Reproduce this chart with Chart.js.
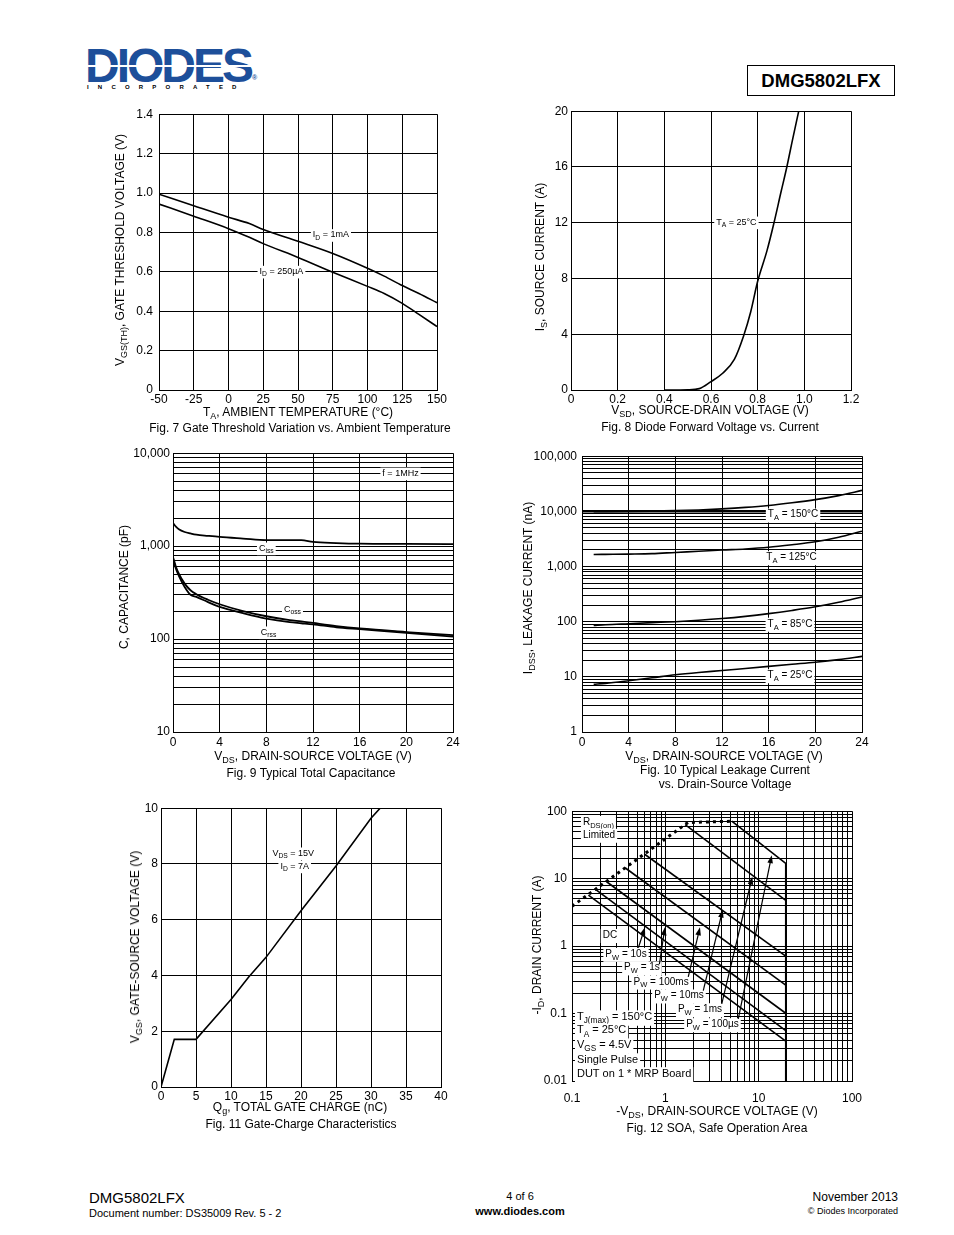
<!DOCTYPE html>
<html>
<head>
<meta charset="utf-8">
<script src="https://cdn.jsdelivr.net/npm/chart.js@4.4.1/dist/chart.umd.min.js"></script>
<style>
body { margin: 0; width: 954px; height: 1235px; position: relative; background: #fff; overflow: hidden;
       font-family: "Liberation Sans", Arial, sans-serif; color: #000; }
canvas { position: absolute; }
.abs { position: absolute; white-space: nowrap; }
.t { position: absolute; white-space: nowrap; font-size: 12px; transform: translate(-50%, -50%); }
.yt { position: absolute; white-space: nowrap; font-size: 12px; transform: translate(-50%, -50%) rotate(-90deg); }
sub { font-size: 9px; vertical-align: -3px; line-height: 0; }
</style>
</head>
<body>

<!-- header -->
<div class="abs" style="left:85px;top:42px;font:bold 48px/48px 'Liberation Sans';color:#1d4f9a;letter-spacing:-3px;">DIODES</div>
<div class="abs" style="left:86px;top:65px;width:166px;height:2px;background:#fff;"></div>
<div class="abs" style="left:252px;top:74px;font:bold 7px 'Liberation Sans';color:#1d4f9a;">&reg;</div>
<div class="abs" style="left:87px;top:84px;font:bold 6px 'Liberation Sans';letter-spacing:9.2px;">INCORPORATED</div>
<div class="abs" style="left:747px;top:65px;width:146px;height:29px;border:1.5px solid #000;text-align:center;font:bold 18.5px/29px 'Liberation Sans';">DMG5802LFX</div>

<canvas id="fig7"></canvas>
<canvas id="fig8"></canvas>
<canvas id="fig9"></canvas>
<canvas id="fig10"></canvas>
<canvas id="fig11"></canvas>
<canvas id="fig12"></canvas>

<!-- axis titles and captions -->
<div class="t" style="left:298px;top:412px;">T<sub>A</sub>, AMBIENT TEMPERATURE (°C)</div>
<div class="t" style="left:300px;top:428px;">Fig. 7 Gate Threshold Variation vs. Ambient Temperature</div>
<div class="yt" style="left:120px;top:250px;">V<sub>GS(TH)</sub>, GATE THRESHOLD VOLTAGE (V)</div>

<div class="t" style="left:710px;top:410px;">V<sub>SD</sub>, SOURCE-DRAIN VOLTAGE (V)</div>
<div class="t" style="left:710px;top:427px;">Fig. 8 Diode Forward Voltage vs. Current</div>
<div class="yt" style="left:540px;top:257px;">I<sub>S</sub>, SOURCE CURRENT (A)</div>

<div class="t" style="left:313px;top:756px;">V<sub>DS</sub>, DRAIN-SOURCE VOLTAGE (V)</div>
<div class="t" style="left:311px;top:773px;">Fig. 9 Typical Total Capacitance</div>
<div class="yt" style="left:124px;top:587px;">C, CAPACITANCE (pF)</div>

<div class="t" style="left:724px;top:756px;">V<sub>DS</sub>, DRAIN-SOURCE VOLTAGE (V)</div>
<div class="t" style="left:725px;top:770px;">Fig. 10 Typical Leakage Current</div>
<div class="t" style="left:725px;top:784px;">vs. Drain-Source Voltage</div>
<div class="yt" style="left:528px;top:588px;">I<sub>DSS</sub>, LEAKAGE CURRENT (nA)</div>

<div class="t" style="left:300px;top:1107px;">Q<sub>g</sub>, TOTAL GATE CHARGE (nC)</div>
<div class="t" style="left:301px;top:1124px;">Fig. 11 Gate-Charge Characteristics</div>
<div class="yt" style="left:135px;top:947px;">V<sub>GS</sub>, GATE-SOURCE VOLTAGE (V)</div>

<div class="t" style="left:717px;top:1111px;">-V<sub>DS</sub>, DRAIN-SOURCE VOLTAGE (V)</div>
<div class="t" style="left:717px;top:1128px;">Fig. 12 SOA, Safe Operation Area</div>
<div class="yt" style="left:537px;top:945px;">-I<sub>D</sub>, DRAIN CURRENT (A)</div>

<!-- footer -->
<div class="abs" style="left:89px;top:1189px;font-size:15px;">DMG5802LFX</div>
<div class="abs" style="left:89px;top:1207px;font-size:11px;">Document number: DS35009 Rev. 5 - 2</div>
<div class="t" style="left:520px;top:1196px;font-size:11px;">4 of 6</div>
<div class="t" style="left:520px;top:1211px;font-size:11px;font-weight:bold;">www.diodes.com</div>
<div class="abs" style="right:56px;top:1190px;font-size:12px;">November 2013</div>
<div class="abs" style="right:56px;top:1206px;font-size:9px;">© Diodes Incorporated</div>

<script>
// Fig. 7 gate threshold
const tempC = [-50, -25, 0, 15, 25, 50, 75, 100, 112, 125, 137, 150];
const vth1mA = [0.994, 0.935, 0.877, 0.845, 0.815, 0.755, 0.693, 0.618, 0.578, 0.53, 0.49, 0.443];
const vth250uA = [0.944, 0.882, 0.819, 0.775, 0.743, 0.673, 0.598, 0.526, 0.49, 0.44, 0.384, 0.322];

// Fig. 8 diode forward
const vsd = [0.4, 0.5, 0.55, 0.6, 0.65, 0.7, 0.74, 0.77, 0.8, 0.84, 0.87, 0.9, 0.925, 0.95, 0.976];
const isrc = [0, 0.02, 0.1, 0.6, 1.2, 2.2, 3.9, 5.6, 7.8, 10, 12, 14.2, 16, 18, 20];

// Fig. 9 capacitance
const vdsCap = [0, 0.25, 0.5, 1, 1.5, 2, 3, 4, 6, 8, 10, 11, 12, 14, 16, 20, 24];
const ciss = [1770, 1620, 1520, 1420, 1370, 1330, 1290, 1255, 1205, 1160, 1160, 1160, 1110, 1080, 1062, 1055, 1050];
const coss = [764, 600, 506, 395, 335, 304, 265, 237, 200, 176, 160, 155, 149, 138, 130, 119, 110];
const crss = [733, 570, 480, 364, 300, 284, 250, 222, 190, 166, 152, 148, 144, 134, 128, 117, 106];

// Fig. 10 leakage
const vdsLeak = [1, 2, 4, 6, 8, 10, 12, 14, 16, 18, 20, 22, 24];
const leak150 = [9900, 9900, 9950, 10100, 10300, 10600, 11100, 11800, 12800, 14300, 16300, 19300, 24000];
const leak125 = [1650, 1660, 1680, 1710, 1800, 1890, 1990, 2080, 2230, 2480, 2810, 3400, 4370];
const leak85 = [85, 88, 92, 96, 100, 106, 114, 125, 140, 160, 186, 225, 281];
const leak25 = [7.3, 7.6, 8.5, 9.6, 10.9, 12, 13, 14.2, 15.5, 16.9, 18.4, 20.5, 23.5];

// Fig. 11 gate charge
const qg = [0, 1.9, 5, 10, 12.5, 15, 20, 25, 30, 31.3];
const vgs = [0, 1.71, 1.71, 3.14, 3.94, 4.65, 6.32, 7.93, 9.64, 10];

// Fig. 12 SOA
const rdsV = [0.1, 1.75, 5.3];
const rdsI = [3.9, 68, 71];
const soaV = {
  us100: [5.15, 19.5, 19.5], ms1: [1.63, 19.5], ms10: [0.6, 19.5],
  ms100: [0.37, 19.5], s1: [0.235, 19.5], s10: [0.177, 19.5], dc: [0.15, 19.5]
};
const soaI = {
  us100: [71, 16.8, 0.01], ms1: [63, 4.75], ms10: [23, 0.71],
  ms100: [14.5, 0.264], s1: [9.0, 0.101], s10: [7.0, 0.056], dc: [5.7, 0.039]
};
const arrowFrom = [[0.514, 0.944], [0.863, 0.538], [1.76, 0.35], [2.55, 0.218], [4.02, 0.139], [6.05, 0.0836]];
const arrowTo = [[0.605, 1.9], [0.99, 1.9], [2.35, 1.9], [4.12, 3.47], [8.55, 10.7], [13.8, 22.3]];

Chart.defaults.font.family = "'Liberation Sans', Arial, sans-serif";
Chart.defaults.font.size = 12;
Chart.defaults.color = '#000';
Chart.defaults.animation = false;

const Y_W = 56, X_H = 24, PAD_T = 10, PAD_R = 22;

// in-plot labels (data coords), drawn on white boxes
const NOTES = {
  fig7: [
    { x: 73.7, y: 0.788, text: 'I_{D} = 1mA', size: 9 },
    { x: 38.1, y: 0.602, text: 'I_{D} = 250µA', size: 9 }
  ],
  fig8: [{ x: 0.709, y: 12.04, text: 'T_{A} = 25°C', size: 9 }],
  fig9: [
    { x: 19.5, y: 6095, text: 'f = 1MHz', size: 9 },
    { x: 8.0, y: 951, text: 'C_{iss}', size: 9 },
    { x: 10.24, y: 210, text: 'C_{oss}', size: 9 },
    { x: 8.19, y: 119, text: 'C_{rss}', size: 9 }
  ],
  fig10: [
    { x: 18.09, y: 8690, text: 'T_{A} = 150°C', size: 10 },
    { x: 17.96, y: 1462, text: 'T_{A} = 125°C', size: 10 },
    { x: 17.83, y: 91, text: 'T_{A} = 85°C', size: 10 },
    { x: 17.83, y: 10.6, text: 'T_{A} = 25°C', size: 10 }
  ],
  fig11: [
    { x: 18.9, y: 8.39, text: 'V_{DS} = 15V', size: 9 },
    { x: 19.1, y: 7.92, text: 'I_{D} = 7A', size: 9 }
  ],
  fig12: [
    { x: 0.131, y: 68.9, text: 'R_{DS(on)}', size: 10, align: 'left' },
    { x: 0.131, y: 44.4, text: 'Limited', size: 10, align: 'left' },
    { x: 0.255, y: 1.45, text: 'DC', size: 10 },
    { x: 0.379, y: 0.762, text: 'P_{W} = 10s', size: 10 },
    { x: 0.562, y: 0.48, text: 'P_{W} = 1s', size: 10 },
    { x: 0.9, y: 0.296, text: 'P_{W} = 100ms', size: 10 },
    { x: 1.40, y: 0.184, text: 'P_{W} = 10ms', size: 10 },
    { x: 2.35, y: 0.115, text: 'P_{W} = 1ms', size: 10 },
    { x: 3.2, y: 0.069, text: 'P_{W} = 100µs', size: 10 },
    { x: 0.113, y: 0.0883, text: 'T_{J(max)} = 150°C', size: 11, align: 'left' },
    { x: 0.113, y: 0.0562, text: 'T_{A} = 25°C', size: 11, align: 'left' },
    { x: 0.113, y: 0.0339, text: 'V_{GS} = 4.5V', size: 11, align: 'left' },
    { x: 0.113, y: 0.0204, text: 'Single Pulse', size: 11, align: 'left' },
    { x: 0.113, y: 0.0127, text: 'DUT on 1 * MRP Board', size: 11, align: 'left' }
  ]
};

function richParts(str) {
  const parts = [];
  const re = /_\{([^}]*)\}/g;
  let last = 0, m;
  while ((m = re.exec(str))) {
    if (m.index > last) parts.push({ t: str.slice(last, m.index), sub: false });
    parts.push({ t: m[1], sub: true });
    last = re.lastIndex;
  }
  if (last < str.length) parts.push({ t: str.slice(last), sub: false });
  return parts;
}

function drawRich(ctx, n, px, py) {
  const size = n.size, subSize = size * 0.75;
  const parts = richParts(n.text);
  let w = 0;
  parts.forEach(p => {
    ctx.font = (p.sub ? subSize : size) + "px 'Liberation Sans', Arial";
    p.w = ctx.measureText(p.t).width;
    w += p.w;
  });
  let x0 = n.align === 'left' ? px : px - w / 2;
  ctx.fillStyle = '#fff';
  ctx.fillRect(x0 - 2, py - size * 0.62, w + 4, size * 1.4);
  ctx.fillStyle = '#000';
  ctx.textBaseline = 'middle';
  ctx.textAlign = 'left';
  parts.forEach(p => {
    ctx.font = (p.sub ? subSize : size) + "px 'Liberation Sans', Arial";
    ctx.fillText(p.t, x0, p.sub ? py + size * 0.35 : py);
    x0 += p.w;
  });
}

const notesPlugin = {
  id: 'notes',
  beforeDatasetsDraw(chart) {
    const list = NOTES[chart.canvas.id];
    if (!list) return;
    const ctx = chart.ctx, xs = chart.scales.x, ys = chart.scales.y;
    ctx.save();
    list.forEach(n => drawRich(ctx, n, xs.getPixelForValue(n.x), ys.getPixelForValue(n.y)));
    ctx.restore();
  }
};

const arrowPlugin = {
  id: 'arrows',
  afterDatasetsDraw(chart) {
    if (chart.canvas.id !== 'fig12') return;
    const ctx = chart.ctx, xs = chart.scales.x, ys = chart.scales.y;
    ctx.save();
    ctx.strokeStyle = '#000';
    ctx.fillStyle = '#000';
    ctx.lineWidth = 1.2;
    arrowFrom.forEach((f, i) => {
      const x1 = xs.getPixelForValue(f[0]), y1 = ys.getPixelForValue(f[1]);
      const x2 = xs.getPixelForValue(arrowTo[i][0]), y2 = ys.getPixelForValue(arrowTo[i][1]);
      const a = Math.atan2(y2 - y1, x2 - x1);
      ctx.beginPath();
      ctx.moveTo(x1, y1);
      ctx.lineTo(x2 - 6 * Math.cos(a), y2 - 6 * Math.sin(a));
      ctx.stroke();
      ctx.beginPath();
      ctx.moveTo(x2, y2);
      ctx.lineTo(x2 - 8 * Math.cos(a) + 2.8 * Math.sin(a), y2 - 8 * Math.sin(a) - 2.8 * Math.cos(a));
      ctx.lineTo(x2 - 8 * Math.cos(a) - 2.8 * Math.sin(a), y2 - 8 * Math.sin(a) + 2.8 * Math.cos(a));
      ctx.closePath();
      ctx.fill();
    });
    ctx.restore();
  }
};

Chart.register(notesPlugin, arrowPlugin);

function place(id, box) {
  const c = document.getElementById(id);
  const w = box.r - box.l + Y_W + PAD_R, h = box.b - box.t + PAD_T + X_H;
  c.width = w; c.height = h;
  c.style.left = (box.l - Y_W) + 'px';
  c.style.top = (box.t - PAD_T) + 'px';
  c.style.width = w + 'px';
  c.style.height = h + 'px';
  return c;
}

function linAxis(min, max, step, fmt, pad, isY) {
  return {
    type: 'linear', min, max,
    ticks: { stepSize: step, callback: fmt, padding: pad, autoSkip: false, maxRotation: 0, color: '#000' },
    grid: { color: '#000', lineWidth: 1, drawTicks: false },
    border: { color: '#000', width: 1 },
    afterFit: s => { if (isY) s.width = Y_W; else s.height = X_H; }
  };
}

function logTicks(min, max) {
  const out = [];
  for (let e = Math.round(Math.log10(min)); e < Math.round(Math.log10(max)); e++) {
    for (let m = 1; m < 10; m++) out.push(Number((m * Math.pow(10, e)).toPrecision(3)));
  }
  out.push(max);
  return out;
}
function isDecade(v) {
  const l = Math.log10(v);
  return Math.abs(l - Math.round(l)) < 1e-6;
}

function logAxis(min, max, pad, isY, lw) {
  return {
    type: 'logarithmic', min, max,
    afterBuildTicks: s => { s.ticks = logTicks(min, max).map(v => ({ value: v })); },
    ticks: {
      callback: v => isDecade(v) ? Number(v).toLocaleString('en-US') : '',
      padding: pad, autoSkip: false, maxRotation: 0, color: '#000'
    },
    grid: { color: '#000', lineWidth: lw || 1, drawTicks: false },
    border: { color: '#000', width: 1 },
    afterFit: s => { if (isY) s.width = Y_W; else s.height = X_H; }
  };
}

function series(xs, ys, extra) {
  return Object.assign({
    data: xs.map((x, i) => ({ x, y: ys[i] })),
    borderColor: '#000', borderWidth: 1.6, pointRadius: 0,
    showLine: true, fill: false, tension: 0
  }, extra || {});
}

function makeChart(id, box, datasets, xAxis, yAxis) {
  return new Chart(place(id, box), {
    type: 'scatter',
    data: { datasets },
    options: {
      responsive: false,
      devicePixelRatio: 1,
      layout: { padding: { top: PAD_T, right: PAD_R, left: 0, bottom: 0 } },
      plugins: { legend: { display: false }, tooltip: { enabled: false } },
      scales: { x: xAxis, y: yAxis }
    }
  });
}

const smooth = { cubicInterpolationMode: 'monotone' };
const fmt1 = v => v === 0 ? '0' : Number(v).toFixed(1);
const fmtInt = v => String(v);

makeChart('fig7', { l: 159, t: 111, r: 437, b: 390 },
  [series(tempC, vth1mA, smooth), series(tempC, vth250uA, smooth)],
  linAxis(-50, 150, 25, fmtInt, 2, false),
  linAxis(0, 1.4, 0.2, fmt1, 6, true));

makeChart('fig8', { l: 571, t: 111, r: 851, b: 390 },
  [series(vsd, isrc, smooth)],
  linAxis(0, 1.2, 0.2, fmt1, 2, false),
  linAxis(0, 20, 4, fmtInt, 3, true));

makeChart('fig9', { l: 173, t: 453, r: 453, b: 732 },
  [series(vdsCap, ciss, Object.assign({ borderWidth: 1.8 }, smooth)),
   series(vdsCap, coss, Object.assign({ borderWidth: 1.8 }, smooth)),
   series(vdsCap, crss, Object.assign({ borderWidth: 1.8 }, smooth))],
  linAxis(0, 24, 4, fmtInt, 3, false),
  logAxis(10, 10000, 3, true));

makeChart('fig10', { l: 582, t: 454, r: 862, b: 732 },
  [series(vdsLeak, leak150, smooth), series(vdsLeak, leak125, smooth),
   series(vdsLeak, leak85, smooth), series(vdsLeak, leak25, smooth)],
  linAxis(0, 24, 4, fmtInt, 3, false),
  logAxis(1, 100000, 5, true, ctx => (ctx.tick && ctx.tick.value === 10000) ? 2.5 : 1));

makeChart('fig11', { l: 161, t: 808, r: 441, b: 1087 },
  [series(qg, vgs)],
  linAxis(0, 40, 5, fmtInt, 2, false),
  linAxis(0, 10, 2, fmtInt, 3, true));

const soaKeys = ['us100', 'ms1', 'ms10', 'ms100', 's1', 's10', 'dc'];
makeChart('fig12', { l: 572, t: 809, r: 852, b: 1081 },
  [series(rdsV, rdsI, { borderWidth: 3, borderDash: [3, 4] })]
    .concat(soaKeys.map(k => series(soaV[k], soaI[k], { borderWidth: 1.6 }))),
  logAxis(0.1, 100, 10, false),
  logAxis(0.01, 100, 5, true));
</script>
</body>
</html>
